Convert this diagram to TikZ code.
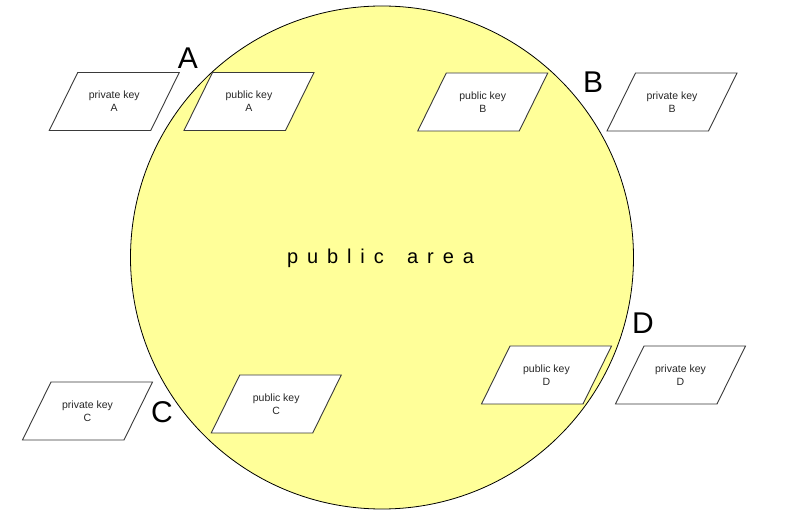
\documentclass[tikz,border=0pt]{standalone}
\usepackage{fontspec}
\setmainfont{Liberation Sans}
\definecolor{areafill}{HTML}{FFFF99}
\definecolor{keyline}{HTML}{3A3A3A}
\definecolor{keytext}{HTML}{262626}
\newcommand{\gp}{\kern8.9pt}
\pgfdeclarelayer{backlayer}
\pgfdeclarelayer{midlayer}
\pgfsetlayers{backlayer,midlayer,main}
\begin{document}
\begin{tikzpicture}[x=1pt,y=-1pt,
  keybox/.style={rectangle, minimum width=101.5pt, minimum height=58pt, inner sep=0pt,
    outer sep=0pt, align=center, font=\fontsize{10.5}{13}\selectfont, text=keytext},
  keyshape/.style={draw=keyline, line width=0.9pt, fill=white, line join=miter},
  cornerlabel/.style={font=\fontsize{30}{30}\selectfont, inner sep=0pt}]
\useasboundingbox (0,0) rectangle (788,521);
\begin{pgfonlayer}{backlayer}
\node[circle, draw=black, line width=0.8pt, fill=areafill, minimum size=503pt, inner sep=0pt] (area) at (382,257.5) {};
\end{pgfonlayer}
\node[font=\fontsize{20}{20}\selectfont, inner sep=0pt] (arealabel) at (380.5,258) {p\gp u\gp b\gp l\gp i\gp c\kern23.4pt a\gp r\gp e\gp a};
% keys (text)
\node[keybox] (privA) at (114.25,101.5) {private key\\A};
\node[keybox] (pubA) at (249,101.5) {public key\\A};
\node[keybox] (pubB) at (482.75,102) {public key\\B};
\node[keybox] (privB) at (672,102) {private key\\B};
\node[keybox] (privC) at (87.5,411) {private key\\C};
\node[keybox] (pubC) at (276.25,404) {public key\\C};
\node[keybox] (pubD) at (546.5,375) {public key\\D};
\node[keybox] (privD) at (680.5,375) {private key\\D};
% parallelogram outlines
\begin{pgfonlayer}{midlayer}
\foreach \k in {privA,pubA,pubB,privB,privC,pubC,pubD,privD}{
  \path[keyshape] ([xshift=14.25pt]\k.north west) -- ([xshift=14.25pt]\k.north east)
    -- ([xshift=-14.25pt]\k.south east) -- ([xshift=-14.25pt]\k.south west) -- cycle;
}
\end{pgfonlayer}
% owner labels
\node[cornerlabel] (labA) at (188,58) {A};
\node[cornerlabel] (labB) at (593,82) {B};
\node[cornerlabel] (labC) at (162,412) {C};
\node[cornerlabel] (labD) at (643,323) {D};
\end{tikzpicture}
\end{document}
